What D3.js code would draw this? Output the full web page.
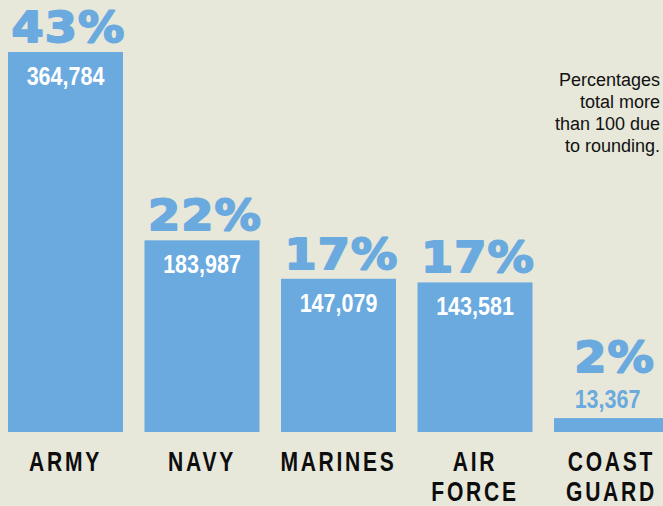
<!DOCTYPE html>
<html>
<head>
<meta charset="utf-8">
<script src="https://cdn.jsdelivr.net/npm/d3@7"></script>
<style>
  html, body { margin: 0; padding: 0; background: #e7e7da; overflow: hidden; }
  svg { display: block; }
</style>
</head>
<body>
<div id="chart"></div>
<script>
var branches = ['ARMY', 'NAVY', 'MARINES', 'AIR FORCE', 'COAST GUARD'];
var labelLines = [['ARMY'], ['NAVY'], ['MARINES'], ['AIR', 'FORCE'], ['COAST', 'GUARD']];
var members = [364784, 183987, 147079, 143581, 13367];
var percents = ['43%', '22%', '17%', '17%', '2%'];
var noteLines = ['Percentages', 'total more', 'than 100 due', 'to rounding.'];

var W = 663, H = 506;
var blue = '#6aaadf';

var svg = d3.select('#chart').append('svg')
    .attr('width', W)
    .attr('height', H);

svg.append('rect').attr('width', W).attr('height', H).attr('fill', '#e7e7da');

var x = d3.scaleBand()
    .domain(branches)
    .range([8, 669])
    .paddingInner(0.1575)
    .paddingOuter(0);

var y = d3.scaleLinear()
    .domain([0, 364784])
    .range([432, 52]);

var data = branches.map(function (b, i) {
    return { name: b, value: members[i], pct: percents[i], lines: labelLines[i] };
});

// small bars get their number above the bar
function inside(d) { return (y(0) - y(d.value)) > 60; }

var g = svg.selectAll('g.bar')
    .data(data)
    .enter()
    .append('g')
    .attr('class', 'bar');

g.append('rect')
    .attr('x', function (d) { return x(d.name); })
    .attr('y', function (d) { return y(d.value); })
    .attr('width', x.bandwidth())
    .attr('height', function (d) { return y(0) - y(d.value); })
    .attr('fill', blue);

// member counts
g.append('text')
    .attr('transform', function (d) {
        var cx = x(d.name) + x.bandwidth() / 2;
        var by = inside(d) ? y(d.value) + 33 : y(d.value) - 10;
        return 'translate(' + (cx - 4 * (inside(d) ? 0 : 1)) + ',' + by + ') scale(0.86,1)';
    })
    .attr('text-anchor', 'middle')
    .attr('font-family', 'Liberation Sans, Arial, sans-serif')
    .attr('font-weight', 'bold')
    .attr('font-size', 25)
    .attr('fill', function (d) { return inside(d) ? '#fff' : blue; })
    .text(function (d) { return d3.format(',')(d.value); });

// percentages, stroked a little to look heavier
g.append('text')
    .attr('transform', function (d) {
        var cx = x(d.name) + x.bandwidth() / 2 + 3;
        var by = inside(d) ? y(d.value) - 10 : y(d.value) - 46;
        return 'translate(' + cx + ',' + by + ') scale(1.1,1)';
    })
    .attr('text-anchor', 'middle')
    .attr('font-family', 'DejaVu Sans, sans-serif')
    .attr('font-weight', 'bold')
    .attr('font-size', 42)
    .attr('letter-spacing', 1)
    .attr('fill', blue)
    .attr('stroke', blue)
    .attr('stroke-width', 1.8)
    .attr('stroke-linejoin', 'round')
    .text(function (d) { return d.pct; });

// branch names
g.each(function (d) {
    var cx = x(d.name) + x.bandwidth() / 2;
    var sel = d3.select(this);
    d.lines.forEach(function (line, k) {
        sel.append('text')
            .attr('transform', 'translate(' + cx + ',' + (471 + k * 30) + ') scale(0.78,1)')
            .attr('text-anchor', 'middle')
            .attr('font-family', 'Liberation Sans, Arial, sans-serif')
            .attr('font-weight', 'bold')
            .attr('font-size', 27)
            .attr('letter-spacing', 3.5)
            .attr('fill', '#0d0d0d')
            .text(line);
    });
});

svg.append('g').selectAll('text')
    .data(noteLines)
    .enter()
    .append('text')
    .attr('x', 660)
    .attr('y', function (d, i) { return 86 + i * 22; })
    .attr('text-anchor', 'end')
    .attr('font-family', 'Liberation Sans, Arial, sans-serif')
    .attr('font-size', 18)
    .attr('fill', '#111')
    .text(function (d) { return d; });
</script>
</body>
</html>
